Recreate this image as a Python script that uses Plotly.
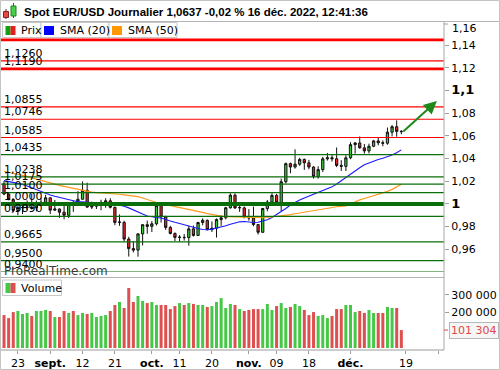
import plotly.graph_objects as go
import pandas as pd

# ---------------- data ----------------
dates = pd.bdate_range("2022-08-18", "2022-12-16").strftime("%Y-%m-%d").tolist()

opens = [1.0177, 1.0087, 1.0038, 0.9942, 0.9967, 0.9969, 0.9971, 0.9965, 1.0002, 1.0015,
         1.0054, 0.9945, 0.9955, 0.9927, 0.9900, 1.0011, 1.0000, 1.0041, 1.0120, 0.9972,
         0.9980, 0.9998, 1.0014, 1.0027, 0.9970, 0.9837, 0.9837, 0.9690, 0.9606, 0.9593,
         0.9736, 0.9817, 0.9802, 0.9825, 0.9985, 0.9885, 0.9793, 0.9740, 0.9705, 0.9705,
         0.9703, 0.9780, 0.9722, 0.9836, 0.9855, 0.9773, 0.9786, 0.9862, 0.9878, 0.9966,
         1.0077, 0.9965, 0.9965, 0.9884, 0.9877, 0.9818, 0.9750, 0.9959, 1.0017, 1.0075,
         1.0013, 1.0195, 1.0355, 1.0325, 1.0350, 1.0392, 1.0362, 1.0325, 1.0241, 1.0302,
         1.0397, 1.0407, 1.0398, 1.0339, 1.0331, 1.0406, 1.0522, 1.0537, 1.0494, 1.0467,
         1.0508, 1.0555, 1.0539, 1.0535, 1.0632, 1.0680, 1.0639]
highs = [1.0202, 1.0094, 1.0048, 1.0018, 0.9999, 1.0030, 1.0090, 1.0030, 1.0055, 1.0080,
         1.0056, 1.0034, 0.9960, 0.9990, 1.0011, 1.0030, 1.0113, 1.0198, 1.0187, 1.0020,
         1.0018, 1.0037, 1.0050, 1.0050, 0.9975, 0.9907, 0.9852, 0.9710, 0.9671, 0.9737,
         0.9818, 0.9853, 0.9849, 0.9999, 0.9998, 0.9896, 0.9807, 0.9748, 0.9725, 0.9734,
         0.9807, 0.9809, 0.9843, 0.9873, 0.9863, 0.9846, 0.9872, 0.9900, 0.9974, 1.0094,
         1.0093, 0.9993, 0.9977, 0.9954, 0.9976, 0.9819, 0.9965, 1.0034, 1.0094, 1.0088,
         1.0223, 1.0364, 1.0364, 1.0481, 1.0406, 1.0400, 1.0388, 1.0332, 1.0331, 1.0415,
         1.0449, 1.0430, 1.0497, 1.0385, 1.0429, 1.0544, 1.0545, 1.0594, 1.0528, 1.0531,
         1.0564, 1.0589, 1.0560, 1.0673, 1.0694, 1.0736, 1.0650]
lows = [1.0077, 1.0032, 0.9926, 0.9901, 0.9911, 0.9946, 0.9950, 0.9934, 0.9988, 0.9990,
        0.9910, 0.9940, 0.9877, 0.9864, 0.9876, 0.9930, 0.9997, 1.0040, 0.9966, 0.9955,
        0.9955, 0.9944, 0.9966, 0.9960, 0.9812, 0.9807, 0.9669, 0.9536, 0.9573, 0.9535,
        0.9634, 0.9737, 0.9752, 0.9810, 0.9836, 0.9771, 0.9731, 0.9672, 0.9668, 0.9677,
        0.9632, 0.9713, 0.9717, 0.9812, 0.9767, 0.9753, 0.9704, 0.9807, 0.9864, 0.9958,
        0.9955, 0.9930, 0.9872, 0.9852, 0.9803, 0.9730, 0.9744, 0.9935, 0.9990, 0.9997,
        0.9936, 1.0180, 1.0270, 1.0311, 1.0335, 1.0300, 1.0305, 1.0223, 1.0223, 1.0282,
        1.0382, 1.0373, 1.0324, 1.0290, 1.0290, 1.0394, 1.0443, 1.0486, 1.0443, 1.0445,
        1.0500, 1.0516, 1.0508, 1.0521, 1.0595, 1.0592, 1.0614]
closes = [1.0087, 1.0038, 0.9942, 0.9967, 0.9969, 0.9971, 0.9965, 1.0002, 1.0015, 1.0054,
          0.9945, 0.9955, 0.9927, 0.9900, 1.0011, 1.0000, 1.0041, 1.0120, 0.9972, 0.9980,
          0.9998, 1.0014, 1.0027, 0.9970, 0.9837, 0.9840, 0.9690, 0.9606, 0.9593, 0.9736,
          0.9817, 0.9802, 0.9825, 0.9985, 0.9885, 0.9793, 0.9740, 0.9705, 0.9707, 0.9703,
          0.9780, 0.9722, 0.9836, 0.9855, 0.9773, 0.9786, 0.9862, 0.9878, 0.9966, 1.0077,
          0.9965, 0.9968, 0.9884, 0.9877, 0.9818, 0.9750, 0.9959, 1.0017, 1.0075, 1.0013,
          1.0195, 1.0355, 1.0325, 1.0350, 1.0392, 1.0362, 1.0325, 1.0241, 1.0302, 1.0397,
          1.0407, 1.0398, 1.0339, 1.0331, 1.0406, 1.0522, 1.0537, 1.0494, 1.0467, 1.0508,
          1.0555, 1.0539, 1.0535, 1.0632, 1.0680, 1.0639, 1.0637]
volumes = [186000, 169000, 203000, 209000, 192000, 198000, 181000, 209000, 209000, 215000,
           209000, 175000, 175000, 209000, 198000, 209000, 186000, 198000, 192000, 198000,
           175000, 181000, 186000, 209000, 243000, 260000, 226000, 339000, 260000, 294000,
           266000, 254000, 260000, 243000, 243000, 243000, 220000, 237000, 254000, 243000,
           254000, 249000, 243000, 243000, 232000, 237000, 260000, 282000, 226000, 249000,
           243000, 220000, 209000, 215000, 220000, 220000, 220000, 249000, 215000, 237000,
           254000, 226000, 232000, 249000, 237000, 215000, 186000, 203000, 181000, 186000,
           169000, 181000, 220000, 220000, 243000, 243000, 203000, 209000, 198000, 215000,
           198000, 198000, 198000, 232000, 226000, 226000, 101304]
sma20 = [1.0205, 1.0198, 1.0190, 1.0184, 1.0172, 1.0158, 1.0141, 1.0125, 1.0108, 1.0092,
         1.0079, 1.0068, 1.0057, 1.0046, 1.0037, 1.0028, 1.0020, 1.0016, 1.0013, 1.0011,
         1.0011, 1.0010, 1.0008, 1.0006, 1.0000, 0.9991, 0.9980, 0.9965, 0.9945, 0.9925,
         0.9910, 0.9893, 0.9885, 0.9880, 0.9876, 0.9866, 0.9850, 0.9838, 0.9826, 0.9813,
         0.9802, 0.9792, 0.9783, 0.9775, 0.9772, 0.9778, 0.9786, 0.9796, 0.9808, 0.9820,
         0.9832, 0.9842, 0.9845, 0.9840, 0.9836, 0.9838, 0.9848, 0.9860, 0.9880, 0.9905,
         0.9932, 0.9960, 0.9990, 1.0015, 1.0035, 1.0052, 1.0068, 1.0085, 1.0100, 1.0118,
         1.0135, 1.0150, 1.0175, 1.0205, 1.0235, 1.0262, 1.0290, 1.0318, 1.0345, 1.0362,
         1.0378, 1.0392, 1.0403, 1.0415, 1.0430, 1.0450, 1.0476]
sma50 = [1.0288, 1.0280, 1.0270, 1.0262, 1.0254, 1.0242, 1.0230, 1.0218, 1.0206, 1.0195,
         1.0184, 1.0174, 1.0163, 1.0155, 1.0146, 1.0137, 1.0128, 1.0118, 1.0108, 1.0104,
         1.0100, 1.0098, 1.0096, 1.0094, 1.0090, 1.0085, 1.0080, 1.0075, 1.0070, 1.0064,
         1.0052, 1.0038, 1.0022, 1.0012, 1.0003, 0.9995, 0.9987, 0.9977, 0.9967, 0.9958,
         0.9950, 0.9942, 0.9934, 0.9925, 0.9915, 0.9906, 0.9897, 0.9892, 0.9888, 0.9886,
         0.9884, 0.9882, 0.9880, 0.9878, 0.9877, 0.9877, 0.9878, 0.9880, 0.9884, 0.9890,
         0.9895, 0.9899, 0.9905, 0.9913, 0.9920, 0.9928, 0.9936, 0.9944, 0.9950, 0.9957,
         0.9964, 0.9970, 0.9975, 0.9979, 0.9982, 0.9998, 1.0018, 1.0035, 1.0048, 1.0060,
         1.0072, 1.0085, 1.0096, 1.0110, 1.0128, 1.0150, 1.0174]

red_levels = [1.1445, 1.1260, 1.1190, 1.0855, 1.0746, 1.0585]
green_levels = [1.0435, 1.0238, 1.0175, 1.0100, 1.0000, 0.9890, 0.9665, 0.9500, 0.9400]
thick_levels = [1.1445, 1.1190, 1.0000]
unlabeled_levels = [1.1445]

price_ticks = [0.96, 0.98, 1.00, 1.02, 1.04, 1.06, 1.08, 1.10, 1.12, 1.14]
volume_ticks = [200000, 300000]

tick_dates = ["2022-08-23", "2022-09-01", "2022-09-12", "2022-09-21", "2022-10-03",
              "2022-10-11", "2022-10-20", "2022-11-01", "2022-11-09", "2022-11-18",
              "2022-12-01", "2022-12-19", "2022-12-28"]
tick_labels = ["23", "sept.", "12", "21", "oct.", "11", "20", "nov.", "09", "18",
               "déc.", "19", ""]
month_labels = ["sept.", "oct.", "nov.", "déc."]

arrow_dates = ["2022-12-16", "2022-12-27"]
arrow_from_idx_offset = [0.1, 0.7]
arrow_prices = [1.0626, 1.0907]

title_text = "Spot EUR/USD Journalier 1,0637 -0,02 % 16 déc. 2022, 12:41:36"

# ---------------- helpers ----------------
W, H = 500, 370
PR = 444  # right edge of plotting area (px)
FONT = "DejaVu Sans"

calendar = pd.bdate_range("2022-08-18", "2022-12-30").strftime("%Y-%m-%d").tolist()
xpos = [calendar.index(d) for d in dates]
tick_pos = [calendar.index(d) for d in tick_dates]
arrow_x = [calendar.index(d) + o for d, o in zip(arrow_dates, arrow_from_idx_offset)]


def px(x):
    return x / PR


def py(y):
    return 1 - y / H


def fmt_level(v):
    return f"{v:.4f}".replace(".", ",")


def fmt_tick(v):
    s = ("%g" % v).replace(".", ",")
    if abs(v * 10 - round(v * 10)) < 1e-9:
        return f'<span style="font-size:13px"><b>{s}</b></span>'
    return s


fig = go.Figure()

# candles
fig.add_trace(go.Candlestick(
    x=xpos, open=opens, high=highs, low=lows, close=closes,
    increasing=dict(fillcolor="#3ccc3c", line=dict(color="#101010", width=1)),
    decreasing=dict(fillcolor="#e8262c", line=dict(color="#101010", width=1)),
    whiskerwidth=0, showlegend=False, hoverinfo="skip",
    xaxis="x", yaxis="y"))

fig.add_trace(go.Scatter(x=xpos, y=sma20, mode="lines",
                         line=dict(color="#1a1aff", width=1.1),
                         showlegend=False, hoverinfo="skip", yaxis="y"))
fig.add_trace(go.Scatter(x=xpos, y=sma50, mode="lines",
                         line=dict(color="#ff9a1a", width=1.2),
                         showlegend=False, hoverinfo="skip", yaxis="y"))

vol_colors = ["#45c845" if c >= o else "#de5050" for o, c in zip(opens, closes)]
fig.add_trace(go.Bar(x=xpos, y=volumes, marker=dict(color=vol_colors, line=dict(width=0)),
                     showlegend=False, hoverinfo="skip", yaxis="y2"))

shapes = []
annotations = []

# level lines and labels
for v in red_levels + green_levels:
    color = "#ff0000" if v in red_levels else "#0a6e0a"
    width = 1.2
    if v in thick_levels:
        width = 4 if color != "#ff0000" else 2.6
    shapes.append(dict(type="line", xref="x domain", x0=0, x1=1, yref="y", y0=v, y1=v,
                       line=dict(color=color, width=width), layer="above"))
    if v not in unlabeled_levels:
        annotations.append(dict(xref="paper", x=px(3), yref="y", y=v, text=fmt_level(v),
                                showarrow=False, xanchor="left", yanchor="bottom",
                                yshift=0, font=dict(family=FONT, size=11, color="#000"),
                                borderpad=0))

# frame lines
shapes.append(dict(type="line", xref="paper", yref="paper", x0=px(0), x1=px(W),
                   y0=py(21.5), y1=py(21.5), line=dict(color="#b4b4b4", width=1)))
shapes.append(dict(type="line", xref="paper", yref="paper", x0=px(0), x1=px(PR),
                   y0=py(277.5), y1=py(277.5), line=dict(color="#b4b4b4", width=1)))
shapes.append(dict(type="line", xref="paper", yref="paper", x0=px(0), x1=px(PR),
                   y0=py(350), y1=py(350), line=dict(color="#9a9a9a", width=1)))
shapes.append(dict(type="line", xref="paper", yref="paper", x0=px(PR), x1=px(PR),
                   y0=py(21.5), y1=py(350), line=dict(color="#a8a8a8", width=1)))
shapes.append(dict(type="rect", xref="paper", yref="paper", x0=px(0.5), x1=px(W - 0.5),
                   y0=py(0.5), y1=py(H - 0.5), line=dict(color="#c4c4c4", width=1)))

# title icon
shapes += [
    dict(type="line", xref="paper", yref="paper", x0=px(6), x1=px(6), y0=py(9), y1=py(19),
         line=dict(color="#602020", width=1)),
    dict(type="rect", xref="paper", yref="paper", x0=px(3.5), x1=px(8.5), y0=py(11.5), y1=py(17.5),
         fillcolor="#e84848", line=dict(color="#802020", width=1)),
    dict(type="line", xref="paper", yref="paper", x0=px(13.5), x1=px(13.5), y0=py(3), y1=py(18),
         line=dict(color="#206020", width=1)),
    dict(type="rect", xref="paper", yref="paper", x0=px(11), x1=px(16), y0=py(6), y1=py(16),
         fillcolor="#48d048", line=dict(color="#208020", width=1)),
]
annotations.append(dict(xref="paper", yref="paper", x=px(22), y=py(12), text="<b>" + title_text + "</b>",
                        showarrow=False, xanchor="left", yanchor="middle",
                        font=dict(family="Liberation Sans", size=11.5, color="#000")))

# legend boxes
legend_items = [
    ("Prix", 2.5, 41, ["#10a010", "#e02020"]),
    ("SMA (20)", 41, 109, ["#0000ff"]),
    ("SMA (50)", 109, 177, ["#ff9900"]),
]
for label, x0, x1, cols in legend_items:
    shapes.append(dict(type="rect", xref="paper", yref="paper", x0=px(x0), x1=px(x1),
                       y0=py(22.5), y1=py(37.5), fillcolor="#ffffff",
                       line=dict(color="#c8c8c8", width=1), layer="above"))
    n = len(cols)
    for i, c in enumerate(cols):
        w = 10 / n
        shapes.append(dict(type="rect", xref="paper", yref="paper",
                           x0=px(x0 + 3 + i * w), x1=px(x0 + 3 + (i + 1) * w),
                           y0=py(26), y1=py(35), fillcolor=c, line=dict(width=0), layer="above"))
    annotations.append(dict(xref="paper", yref="paper", x=px(x0 + 16.5), y=py(30.5), text=label,
                            showarrow=False, xanchor="left", yanchor="middle",
                            font=dict(family=FONT, size=11, color="#000")))

# volume legend
shapes.append(dict(type="rect", xref="paper", yref="paper", x0=px(2.5), x1=px(61.5),
                   y0=py(280), y1=py(295.5), fillcolor="#ffffff",
                   line=dict(color="#c8c8c8", width=1), layer="above"))
shapes.append(dict(type="rect", xref="paper", yref="paper", x0=px(5.5), x1=px(10.5),
                   y0=py(283), y1=py(293), fillcolor="#45c845", line=dict(width=0), layer="above"))
shapes.append(dict(type="rect", xref="paper", yref="paper", x0=px(10.5), x1=px(15.5),
                   y0=py(283), y1=py(293), fillcolor="#de5050", line=dict(width=0), layer="above"))
annotations.append(dict(xref="paper", yref="paper", x=px(19), y=py(288), text="Volume",
                        showarrow=False, xanchor="left", yanchor="middle",
                        font=dict(family=FONT, size=11, color="#000")))

# watermark
annotations.append(dict(xref="paper", yref="paper", x=px(2), y=py(271), text="ProRealTime.com",
                        showarrow=False, xanchor="left", yanchor="middle",
                        font=dict(family=FONT, size=12, color="#3a3a3a")))

# 1,16 label at the top of the axis
annotations.append(dict(xref="paper", yref="paper", x=px(450), y=py(29), text="1,16",
                        showarrow=False, xanchor="left", yanchor="middle",
                        font=dict(family=FONT, size=11, color="#000")))
shapes.append(dict(type="line", xref="paper", yref="paper", x0=px(PR), x1=px(PR + 4),
                   y0=py(24), y1=py(24), line=dict(color="#a0a0a0", width=1)))

# last volume tag
last_vol = f"{volumes[-1]:,}".replace(",", " ")
annotations.append(dict(xref="paper", yref="y2", x=px(449), y=volumes[-1], text=last_vol,
                        showarrow=False, xanchor="left", yanchor="middle",
                        font=dict(family=FONT, size=11, color="#e04848"),
                        bgcolor="#f6f6f6", bordercolor="#b8b8b8", borderwidth=1, borderpad=1))
shapes.append(dict(type="line", xref="paper", yref="y2", x0=px(PR), x1=px(PR + 4),
                   y0=volumes[-1], y1=volumes[-1], line=dict(color="#e04848", width=1)))

# arrow
annotations.append(dict(xref="x", yref="y", axref="x", ayref="y",
                        x=arrow_x[1], y=arrow_prices[1], ax=arrow_x[0], ay=arrow_prices[0],
                        text="", showarrow=True, arrowhead=2, arrowsize=1.3, arrowwidth=2,
                        arrowcolor="#1b8a1b"))

fig.update_layout(
    width=W, height=H, autosize=False,
    margin=dict(l=0, r=W - PR, t=0, b=0, pad=0),
    paper_bgcolor="white", plot_bgcolor="white",
    showlegend=False, bargap=0.35,
    font=dict(family=FONT, size=11, color="#000"),
    xaxis=dict(range=[-0.87, 95.24], anchor="y2", rangeslider=dict(visible=False),
               tickvals=tick_pos,
               ticktext=[f"<b>{t}</b>" if t in month_labels else t for t in tick_labels],
               ticks="outside", ticklen=3, tickcolor="#9a9a9a", showgrid=False,
               zeroline=False, showline=False, tickfont=dict(family=FONT, size=11, color="#000")),
    yaxis=dict(domain=[py(272), py(23)], range=[0.94, 1.1594], side="right",
               tickvals=price_ticks, ticktext=[fmt_tick(v) for v in price_ticks],
               ticks="outside", ticklen=4, tickcolor="#a0a0a0", showgrid=False,
               zeroline=False, showline=False, anchor="x",
               tickfont=dict(family=FONT, size=11, color="#000")),
    yaxis2=dict(domain=[py(350), py(278)], range=[-11300, 395500], side="right",
                tickvals=volume_ticks,
                ticktext=[f"{v:,}".replace(",", " ") for v in volume_ticks],
                ticks="outside", ticklen=4, tickcolor="#a0a0a0", showgrid=False,
                zeroline=False, showline=False, anchor="x",
                tickfont=dict(family=FONT, size=11, color="#000")),
    shapes=shapes, annotations=annotations,
)

fig.write_html("out.html", config={"displayModeBar": False},
               post_script="document.body.style.margin='0';document.body.style.overflow='hidden';")
